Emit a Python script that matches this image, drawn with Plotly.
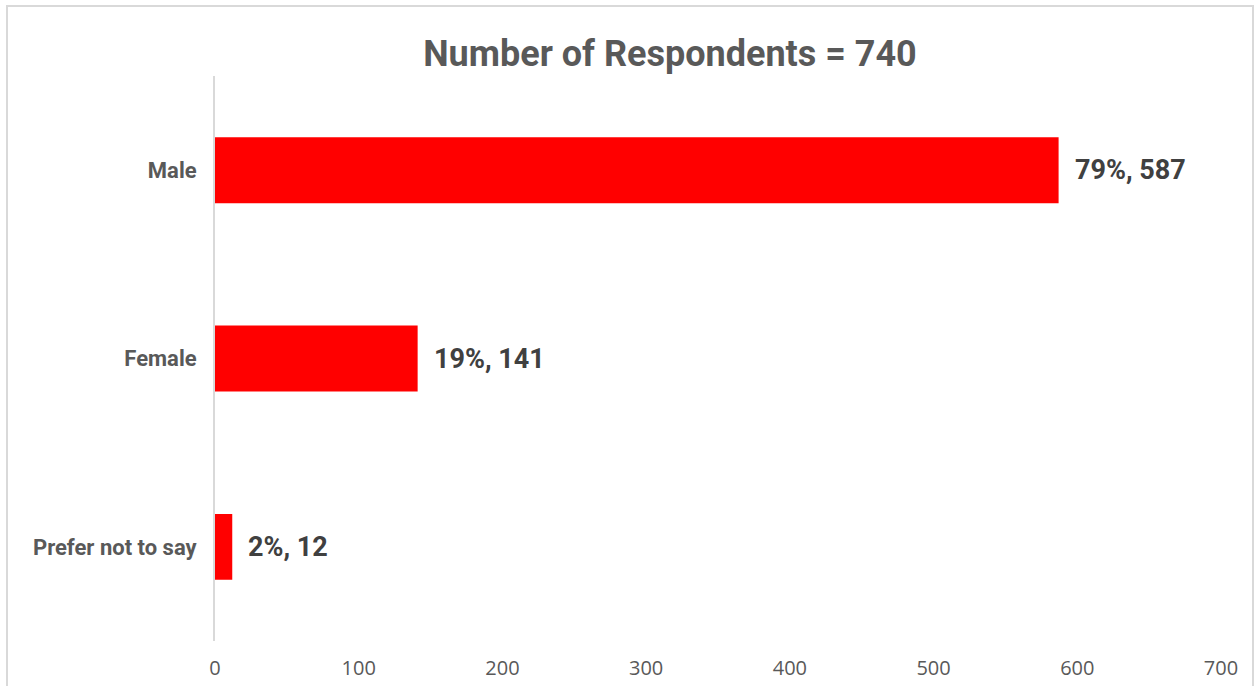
import plotly.graph_objects as go

# Survey data: gender of respondents
categories = ["Male", "Female", "Prefer not to say"]
counts = [587, 141, 12]
total_respondents = 740
x_ticks = [0, 100, 200, 300, 400, 500, 600, 700]

percents = [round(100 * c / total_respondents) for c in counts]
labels = [f"{p}%, {c}" for p, c in zip(percents, counts)]

W, H = 1255, 686
ml, mr, mt, mb = 215, 34, 76, 45

fig = go.Figure(
    go.Bar(
        x=counts,
        y=categories,
        orientation="h",
        marker=dict(color="#ff0000", line=dict(width=0)),
        width=0.35,
        hoverinfo="x+y",
    )
)

# value labels placed just beyond each bar end
for cat, val, lab in zip(categories, counts, labels):
    fig.add_annotation(
        x=val, y=cat, text=f"<b>{lab}</b>", showarrow=False,
        xanchor="left", yanchor="middle", xshift=14,
        font=dict(family="Roboto", size=27, color="#404040"),
    )

# light grey chart border (bottom edge falls outside the canvas)
pw, ph = W - ml - mr, H - mt - mb
fig.add_shape(
    type="rect", xref="paper", yref="paper",
    x0=(7 - ml) / pw, x1=(1253 - ml) / pw,
    y0=-(mb + 20) / ph, y1=1 + (mt - 6) / ph,
    line=dict(color="#d9d9d9", width=2), fillcolor="rgba(0,0,0,0)", layer="below",
)

fig.update_layout(
    width=W, height=H,
    margin=dict(l=ml, r=mr, t=mt, b=mb, autoexpand=False),
    paper_bgcolor="white", plot_bgcolor="white",
    showlegend=False,
    title=dict(
        text="<b>Number of Respondents = 740</b>",
        x=670 / W, xref="container", xanchor="center",
        y=1 - 53 / H, yref="container", yanchor="middle",
        font=dict(family="Roboto", size=36, color="#595959"),
    ),
    xaxis=dict(
        range=[0, 700], tickvals=x_ticks, showgrid=False, zeroline=False,
        showline=False, ticks="", ticklabelstandoff=13, automargin=False,
        tickfont=dict(family="Open Sans", size=20, color="#595959"),
        fixedrange=True,
    ),
    yaxis=dict(
        autorange=False, range=[2.5, -0.5], categoryorder="array",
        categoryarray=categories, showgrid=False, zeroline=False,
        showline=True, linecolor="#d9d9d9", linewidth=2, ticks="",
        ticklabelstandoff=12, automargin=False,
        tickfont=dict(family="Roboto", size=22, color="#595959", weight="bold"),
        fixedrange=True,
    ),
)

fig.write_html("out.html")
